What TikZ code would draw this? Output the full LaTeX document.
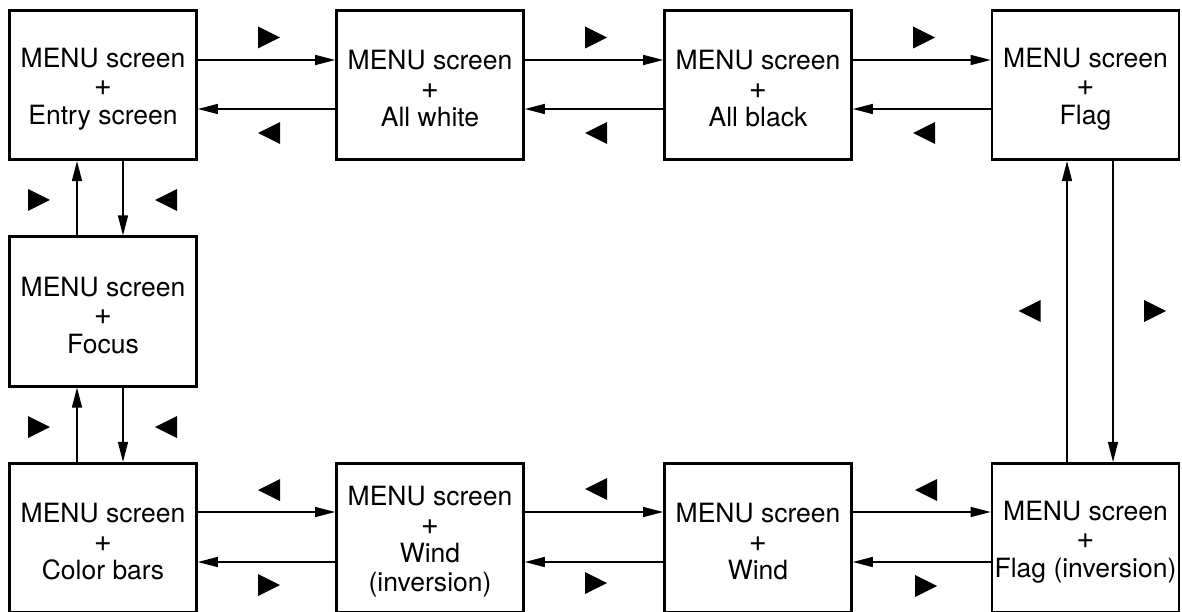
\documentclass[tikz,border=0pt]{standalone}
\usepackage{fontspec}
\setmainfont{TeX Gyre Heros}
\usetikzlibrary{arrows.meta}
\newcommand{\menuline}{\rule{0pt}{27pt}MENU screen\\{\fontsize{31}{28.5}\selectfont +}}
\begin{document}
\begin{tikzpicture}[x=1pt,y=-1pt,
  scr/.style={draw,line width=2.6pt,minimum width=187pt,minimum height=149.5pt,inner sep=0pt,align=center,font=\fontsize{26.5}{28.5}\selectfont},
  arr/.style={line width=1.3pt,-{Triangle[length=20pt,width=10pt]}},
  rtri/.pic={\fill (-11,-11) -- (11,0) -- (-11,11) -- cycle;},
  ltri/.pic={\fill (11,-11) -- (-11,0) -- (11,11) -- cycle;}]
\useasboundingbox (0,0) rectangle (1182,612);
\clip (0,0) rectangle (1182,612);
% boxes
\node[scr] (e)  at (103,85)    {\menuline\\Entry screen};
\node[scr] (w)  at (430,85)    {\menuline\\All white};
\node[scr] (k)  at (758,85)    {\menuline\\All black};
\node[scr] (f)  at (1085.5,85) {\menuline\\Flag};
\node[scr] (fo) at (103,311.5) {\menuline\\Focus};
\node[scr] (cb) at (103,538)   {\menuline\\Color bars};
\node[scr] (wi) at (430,538)   {\menuline\\Wind\\(inversion)};
\node[scr] (wd) at (758,538)   {\menuline\\Wind};
\node[scr] (fi) at (1085.5,538) {\menuline\\Flag (inversion)};
% top row
\draw[arr] (e.east |- 0,60) -- (w.west |- 0,60);
\draw[arr] (w.west |- 0,109) -- (e.east |- 0,109);
\draw[arr] (w.east |- 0,60) -- (k.west |- 0,60);
\draw[arr] (k.west |- 0,109) -- (w.east |- 0,109);
\draw[arr] (k.east |- 0,60) -- (f.west |- 0,60);
\draw[arr] (f.west |- 0,109) -- (k.east |- 0,109);
% bottom row
\draw[arr] (cb.east |- 0,512) -- (wi.west |- 0,512);
\draw[arr] (wi.west |- 0,562) -- (cb.east |- 0,562);
\draw[arr] (wi.east |- 0,512) -- (wd.west |- 0,512);
\draw[arr] (wd.west |- 0,562) -- (wi.east |- 0,562);
\draw[arr] (wd.east |- 0,512) -- (fi.west |- 0,512);
\draw[arr] (fi.west |- 0,562) -- (wd.east |- 0,562);
% left column
\draw[arr] (e.south -| 123,0) -- (fo.north -| 123,0);
\draw[arr] (fo.north -| 77,0) -- (e.south -| 77,0);
\draw[arr] (fo.south -| 123,0) -- (cb.north -| 123,0);
\draw[arr] (cb.north -| 77,0) -- (fo.south -| 77,0);
% right column
\draw[arr] (f.south -| 1113,0) -- (fi.north -| 1113,0);
\draw[arr] (fi.north -| 1067,0) -- (f.south -| 1067,0);
% direction markers
\pic at (269,37.5) {rtri};
\pic at (269,133) {ltri};
\pic at (596,37.5) {rtri};
\pic at (596,133) {ltri};
\pic at (924,37.5) {rtri};
\pic at (924,133) {ltri};
\pic at (39,200) {rtri};
\pic at (166,200) {ltri};
\pic at (39,427) {rtri};
\pic at (166,427) {ltri};
\pic at (1029.5,311) {ltri};
\pic at (1155,311) {rtri};
\pic at (269,490) {ltri};
\pic at (269,585) {rtri};
\pic at (596,489) {ltri};
\pic at (596,583) {rtri};
\pic at (926,490) {ltri};
\pic at (926,586) {rtri};
\end{tikzpicture}
\end{document}
